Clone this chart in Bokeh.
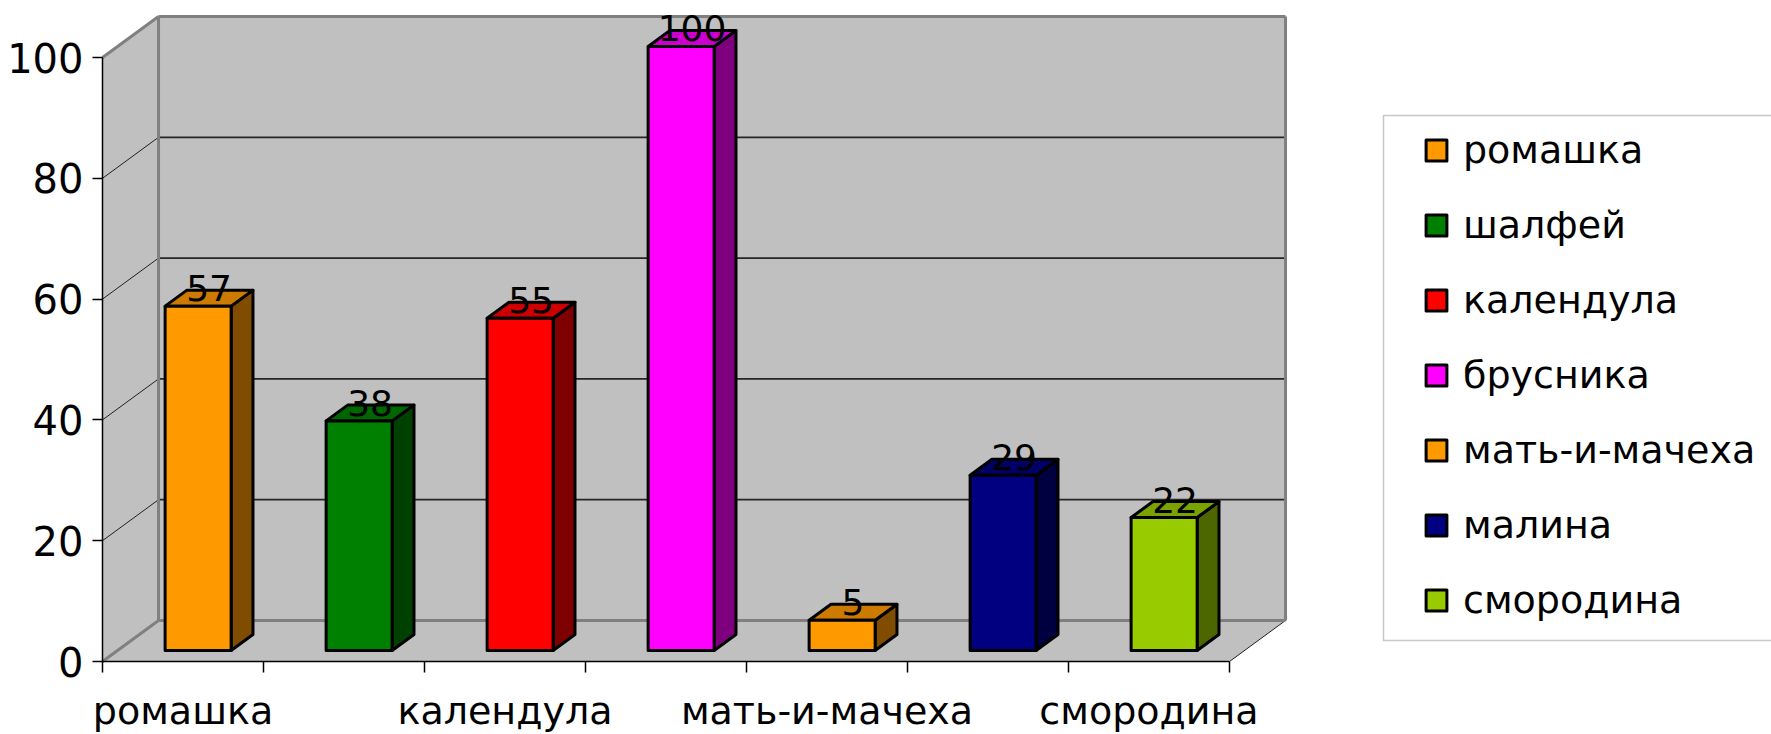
from bokeh.plotting import figure
from bokeh.models import Range1d, FixedTicker, Legend, LegendItem, ColumnDataSource, BoxAnnotation
from bokeh.core.properties import value
from bokeh.embed import file_html
from bokeh.resources import INLINE

# ---- data ----
categories = ["ромашка", "шалфей", "календула", "брусника", "мать-и-мачеха", "малина", "смородина"]
values = [57, 38, 55, 100, 5, 29, 22]
colors = ["#FF9900", "#008000", "#FF0000", "#FF00FF", "#FF9900", "#000080", "#99CC00"]
y_ticks = [0, 20, 40, 60, 80, 100]

# ---- geometry / style constants ----
DX, DY = 0.348, 6.79          # full depth of the 3D box (x units, y units)
F0, F1 = 0.27, 0.66           # bar depth (front, back) as fraction of DX/DY
HW = 0.205                    # half width of bar front face
FONT = "DejaVu Sans"
WALL = "#C0C0C0"
EDGE = "#808080"
n = len(categories)
ymax = y_ticks[-1]

def shade(hexc, f):
    h = hexc.lstrip("#")
    r, g, b = (int(h[i:i + 2], 16) for i in (0, 2, 4))
    return "#%02X%02X%02X" % (int(r * f), int(g * f), int(b * f))

W, H = 1771, 734
PX_X, PX_Y = 161.0, 6.04
ORIGIN_X, ORIGIN_Y = 102, 661   # figure pixel position of (0, 0)

def sx(px):   # screen x -> data x
    return (px - ORIGIN_X) / PX_X

def sy(py):   # screen y -> data y
    return (ORIGIN_Y - py) / PX_Y

p = figure(width=W, height=H, output_backend="svg", toolbar_location=None,
           x_range=Range1d(sx(0), sx(W)), y_range=Range1d(sy(H), sy(0)),
           min_border=0)
p.outline_line_color = None
p.grid.visible = False
p.background_fill_color = "white"
p.border_fill_color = "white"

# ---- walls and floor ----
xr = n + DX
p.patches(xs=[[0, 0, DX, DX], [DX, DX, xr, xr], [0, n, xr, DX]],
          ys=[[0, ymax, ymax + DY, DY], [DY, ymax + DY, ymax + DY, DY], [0, 0, DY, DY]],
          fill_color=WALL, line_color=None)

inner = y_ticks[1:-1]
# back wall grid lines
p.segment(x0=[DX] * len(inner), y0=[t + DY for t in inner], x1=[xr] * len(inner),
          y1=[t + DY for t in inner], line_color="#262626", line_width=1.7)
# left wall grid diagonals
p.segment(x0=[0] * len(inner), y0=inner, x1=[DX] * len(inner), y1=[t + DY for t in inner],
          line_color="#202020", line_width=1)
# floor right edge
p.segment(x0=[n], y0=[0], x1=[xr], y1=[DY], line_color="#202020", line_width=1)
# grey edges of the box
p.segment(x0=[DX, DX, xr, 0, 0, DX], y0=[DY, ymax + DY, DY, 0, ymax, DY],
          x1=[DX, xr, xr, DX, DX, xr], y1=[ymax + DY, ymax + DY, ymax + DY, DY, ymax + DY, DY],
          line_color=EDGE, line_width=3)

# ---- bars ----
lefts = [i + 0.5 - HW + F0 * DX for i in range(n)]
rights = [i + 0.5 + HW + F0 * DX for i in range(n)]
ddx = (F1 - F0) * DX
ddy = (F1 - F0) * DY
b0 = F0 * DY
src = ColumnDataSource(dict(left=lefts, right=rights, bottom=[b0] * n,
                            top=[v + b0 for v in values], color=colors, label=categories))

side_xs = [[r, r + ddx, r + ddx, r] for r in rights]
side_ys = [[b0, b0 + ddy, v + b0 + ddy, v + b0] for v in values]
top_xs = [[l, r, r + ddx, l + ddx] for l, r in zip(lefts, rights)]
top_ys = [[v + b0, v + b0, v + b0 + ddy, v + b0 + ddy] for v in values]
p.patches(xs=side_xs, ys=side_ys, fill_color=[shade(c, 0.5) for c in colors],
          line_color="black", line_width=3, line_join="round")
p.patches(xs=top_xs, ys=top_ys, fill_color=[shade(c, 0.8) for c in colors],
          line_color="black", line_width=3, line_join="round")
front = p.quad(left="left", right="right", bottom="bottom", top="top", source=src,
               fill_color="color", line_color="black", line_width=3, line_join="round")

# value labels (sitting on the top face)
p.text(x=[i + 0.5 + (F0 + F1) / 2 * DX for i in range(n)], y=[v + b0 for v in values],
       text=[str(v) for v in values], text_align="center", text_baseline="bottom",
       y_offset=-5, text_font=value(FONT), text_font_size="36px", text_color="black")

# ---- axes ----
xa = p.xaxis[0]
xa.fixed_location = 0
xa.bounds = (0, n)
label_idx = list(range(0, n, 2))
xa.ticker = FixedTicker(ticks=[i + 0.5 for i in label_idx], minor_ticks=list(range(n + 1)))
xa.major_label_overrides = {i + 0.5: categories[i] for i in label_idx}
xa.major_tick_out = 0
xa.major_tick_in = 0
xa.minor_tick_out = 11
xa.minor_tick_in = 0
xa.minor_tick_line_color = "black"
xa.minor_tick_line_width = 1.5
xa.axis_line_color = "black"
xa.axis_line_width = 1.5
xa.major_label_standoff = 16
xa.major_label_text_font = FONT
xa.major_label_text_font_size = "38px"
xa.major_label_text_color = "black"

ya = p.yaxis[0]
ya.fixed_location = 0
ya.bounds = (0, ymax)
ya.ticker = FixedTicker(ticks=y_ticks)
ya.major_tick_out = 10
ya.major_tick_in = 0
ya.major_tick_line_color = "black"
ya.major_tick_line_width = 1.5
ya.minor_tick_line_color = None
ya.axis_line_color = "black"
ya.axis_line_width = 1.5
ya.major_label_standoff = 9
ya.major_label_text_font = FONT
ya.major_label_text_font_size = "40px"
ya.major_label_text_color = "black"

# ---- legend ----
p.add_layout(BoxAnnotation(left=sx(1383), right=sx(W + 40), top=sy(115), bottom=sy(640),
                           fill_color="white", fill_alpha=1,
                           line_color="#444444", line_width=1.5, level="annotation"))
legend = Legend(items=[LegendItem(label=categories[i], renderers=[front], index=i) for i in range(n)],
                location=(1423, H - 622))
legend.label_text_font = FONT
legend.label_text_font_size = "38px"
legend.label_text_color = "black"
legend.glyph_width = 26
legend.glyph_height = 26
legend.label_height = 26
legend.label_standoff = 14
legend.padding = 0
legend.spacing = 31
legend.margin = 0
legend.border_line_color = None
legend.background_fill_alpha = 0
p.add_layout(legend, "center")

open("out.html", "w").write(file_html(p, INLINE))
